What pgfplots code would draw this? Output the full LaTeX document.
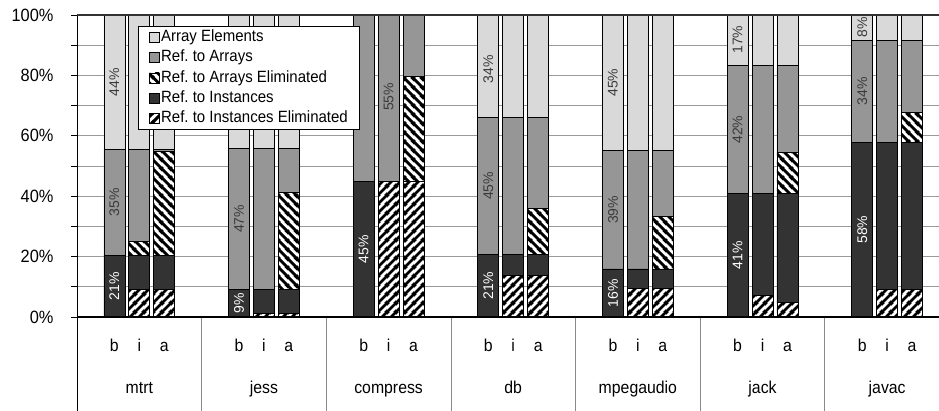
\documentclass[border=0pt]{standalone}
\usepackage{pgfplots}
\pgfplotsset{compat=1.18}
\usepackage{fontspec}
\setmainfont[FakeStretch=0.92]{Liberation Sans}
\newfontfamily\plainfont{Liberation Sans}
\usetikzlibrary{patterns}
\frenchspacing
\definecolor{cLight}{HTML}{D9D9D9}
\definecolor{cMid}{HTML}{969696}
\definecolor{cDark}{HTML}{333333}
\definecolor{cGrid}{HTML}{9A9A9A}
\definecolor{cTxt}{HTML}{3A3A3A}
\definecolor{cSep}{HTML}{8A8A8A}
\pgfdeclarepatternformonly{neStripes}{\pgfpointorigin}{\pgfpoint{9pt}{9pt}}{\pgfpoint{9pt}{9pt}}{
  \pgfsetlinewidth{3pt}
  \pgfpathmoveto{\pgfpoint{-2pt}{-2pt}}\pgfpathlineto{\pgfpoint{11pt}{11pt}}
  \pgfpathmoveto{\pgfpoint{-2pt}{7pt}}\pgfpathlineto{\pgfpoint{2pt}{11pt}}
  \pgfpathmoveto{\pgfpoint{7pt}{-2pt}}\pgfpathlineto{\pgfpoint{11pt}{2pt}}
  \pgfusepath{stroke}}
\pgfdeclarepatternformonly{nwStripes}{\pgfpointorigin}{\pgfpoint{9pt}{9pt}}{\pgfpoint{9pt}{9pt}}{
  \pgfsetlinewidth{3pt}
  \pgfpathmoveto{\pgfpoint{-2pt}{11pt}}\pgfpathlineto{\pgfpoint{11pt}{-2pt}}
  \pgfpathmoveto{\pgfpoint{-2pt}{2pt}}\pgfpathlineto{\pgfpoint{2pt}{-2pt}}
  \pgfpathmoveto{\pgfpoint{7pt}{11pt}}\pgfpathlineto{\pgfpoint{11pt}{7pt}}
  \pgfusepath{stroke}}
\tikzset{pl/.style={rotate=90, font=\plainfont\fontsize{14}{15}\selectfont, text=cTxt, inner sep=0pt},
         pw/.style={pl, text=white},
         cl/.style={anchor=base, font=\fontsize{17.2}{19}\selectfont, inner sep=0pt},
         sIE/.style={draw=black, line width=0.7pt, preaction={fill=white}, pattern=neStripes, pattern color=black},
         sI/.style={draw=black, line width=0.7pt, fill=cDark},
         sAE/.style={draw=black, line width=0.7pt, preaction={fill=white}, pattern=nwStripes, pattern color=black},
         sA/.style={draw=black, line width=0.7pt, fill=cMid},
         sE/.style={draw=black, line width=0.7pt, fill=cLight}}
\pgfplotsset{geom/.style={scale only axis, width=862pt, height=302pt,
  xmin=-0.5, xmax=34.08, ymin=0, ymax=100, enlargelimits=false}}
\begin{document}
\begin{tikzpicture}
\begin{axis}[
  geom, name=ax,
  ybar stacked, bar width=21pt,
  axis line style={draw=none},
  xtick=\empty,
  ytick={0,20,...,100}, minor ytick={10,30,...,90},
  ymajorgrids, yminorgrids,
  major grid style={cGrid, line width=0.8pt},
  minor grid style={cGrid, line width=0.8pt},
  ytick pos=left, tick align=outside, major tick length=6pt, minor tick length=6pt,
  tick style={black, line width=0.8pt},
  yticklabel={\pgfmathprintnumber{\tick}\%},
  /pgf/number format/assume math mode=true,
  yticklabel style={font=\fontsize{17.8}{19}\selectfont, xshift=-14pt},
]
% Ref. to Instances Eliminated
\addplot[sIE]
  coordinates {(1,0) (2,9.2) (3,9.2) (6,0) (7,1.2) (8,1.2) (11,0) (12,45) (13,45)
  (16,0) (17,13.9) (18,13.9) (21,0) (22,9.4) (23,9.4) (26,0) (27,7.1) (28,4.7)
  (31,0) (32,9.0) (33,9.0)};
% Ref. to Instances
\addplot[sI]
  coordinates {(1,20.5) (2,11.3) (3,11.3) (6,9.2) (7,8.0) (8,8.0) (11,45) (12,0) (13,0)
  (16,20.75) (17,6.85) (18,6.85) (21,15.9) (22,6.5) (23,6.5) (26,41) (27,33.9) (28,36.3)
  (31,57.8) (32,48.8) (33,48.8)};
% Ref. to Arrays Eliminated
\addplot[sAE]
  coordinates {(1,0) (2,4.6) (3,34.2) (6,0) (7,0) (8,32.1) (11,0) (12,0) (13,34.7)
  (16,0) (17,0) (18,15.25) (21,0) (22,0) (23,17.4) (26,0) (27,0) (28,13.4)
  (31,0) (32,0) (33,9.8)};
% Ref. to Arrays
\addplot[sA]
  coordinates {(1,35) (2,30.4) (3,0.8) (6,46.6) (7,46.6) (8,14.5) (11,55) (12,55) (13,20.3)
  (16,45.35) (17,45.35) (18,30.1) (21,39.2) (22,39.2) (23,21.8) (26,42.2) (27,42.2) (28,28.8)
  (31,33.8) (32,33.8) (33,24.0)};
% Array Elements
\addplot[sE]
  coordinates {(1,44.5) (2,44.5) (3,44.5) (6,44.2) (7,44.2) (8,44.2) (11,0) (12,0) (13,0)
  (16,33.9) (17,33.9) (18,33.9) (21,44.9) (22,44.9) (23,44.9) (26,16.8) (27,16.8) (28,16.8)
  (31,8.4) (32,8.4) (33,8.4)};
\end{axis}
\begin{axis}[
  geom, at={(ax.south west)}, anchor=south west,
  axis line style={draw=none}, xtick=\empty, ytick=\empty, clip=false,
  legend cell align=left,
  legend image code/.code={\draw[#1] (0pt,-5pt) rectangle (10pt,5pt);},
  legend style={at={(0.0708,0.9636)}, anchor=north west, draw=black, fill=white,
    line width=0.8pt,
    font=\fontsize{16.3}{17}\selectfont, row sep=3pt,
    nodes={inner sep=1pt, text height=12pt, text depth=3.4pt}, inner xsep=11pt, inner ysep=2pt},
]
\addlegendimage{sE}\addlegendentry{Array Elements}
\addlegendimage{sA}\addlegendentry{Ref. to Arrays}
\addlegendimage{sAE}\addlegendentry{Ref. to Arrays Eliminated}
\addlegendimage{sI}\addlegendentry{Ref. to Instances}
\addlegendimage{sIE}\addlegendentry{Ref. to Instances Eliminated}

% percentage labels
\node[pw] at (axis cs:1,10.25) {21\%};
\node[pl] at (axis cs:1,38) {35\%};
\node[pl] at (axis cs:1,77.75) {44\%};
\node[pw] at (axis cs:6,4.6) {9\%};
\node[pl] at (axis cs:6,32.5) {47\%};
\node[pw] at (axis cs:11,22.5) {45\%};
\node[pl] at (axis cs:12,72.9) {55\%};
\node[pw] at (axis cs:16,10.4) {21\%};
\node[pl] at (axis cs:16,43.4) {45\%};
\node[pl] at (axis cs:16,82) {34\%};
\node[pw] at (axis cs:21,7.95) {16\%};
\node[pl] at (axis cs:21,35.5) {39\%};
\node[pl] at (axis cs:21,77.6) {45\%};
\node[pw] at (axis cs:26,20.5) {41\%};
\node[pl] at (axis cs:26,62) {42\%};
\node[pl] at (axis cs:26,91.8) {17\%};
\node[pw] at (axis cs:31,28.9) {58\%};
\node[pl] at (axis cs:31,74.8) {34\%};
\node[pl] at (axis cs:31,96) {8\%};

% category table below
\pgfplotsinvokeforeach{4.5,9.5,14.5,19.5,24.5,29.5}{
  \draw[cSep, line width=0.8pt] (axis cs:#1,0) -- (axis cs:#1,-31);
}
\pgfplotsinvokeforeach{1,6,11,16,21,26,31}{\node[cl, yshift=-34pt] at (axis cs:#1,0) {b};}
\pgfplotsinvokeforeach{2,7,12,17,22,27,32}{\node[cl, yshift=-34pt] at (axis cs:#1,0) {i};}
\pgfplotsinvokeforeach{3,8,13,18,23,28,33}{\node[cl, yshift=-34pt] at (axis cs:#1,0) {a};}
\node[cl, yshift=-76.5pt] at (axis cs:2,0) {mtrt};
\node[cl, yshift=-76.5pt] at (axis cs:7,0) {jess};
\node[cl, yshift=-76.5pt] at (axis cs:12,0) {compress};
\node[cl, yshift=-76.5pt] at (axis cs:17,0) {db};
\node[cl, yshift=-76.5pt] at (axis cs:22,0) {mpegaudio};
\node[cl, yshift=-76.5pt] at (axis cs:27,0) {jack};
\node[cl, yshift=-76.5pt] at (axis cs:32,0) {javac};

% axis lines
\draw[black, line width=0.8pt] (axis cs:-0.5,100) -- (axis cs:-0.5,-31);
\draw[black, line width=1.6pt] (axis cs:-0.5,0) -- (axis cs:34.08,0);
\draw[black!80, line width=1.3pt] (axis cs:-0.5,100) -- (axis cs:34.08,100);
\end{axis}
\pgfresetboundingbox
\useasboundingbox ([shift={(-77pt,-93pt)}]ax.south west) rectangle ([shift={(0pt,15pt)}]ax.north east);
\end{tikzpicture}
\end{document}
